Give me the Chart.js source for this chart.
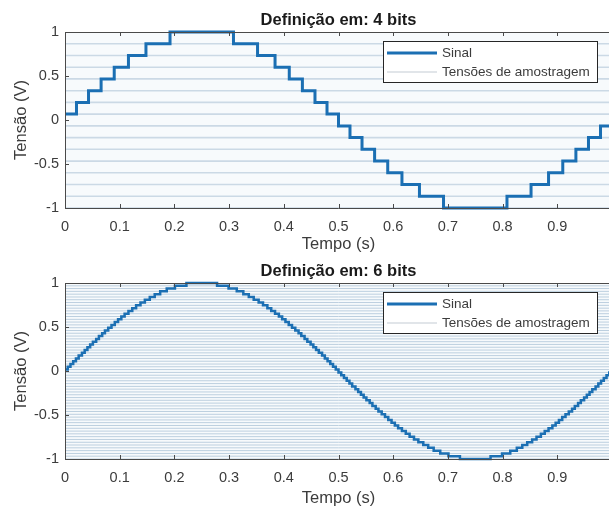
<!DOCTYPE html>
<html>
<head>
<meta charset="utf-8">
<script src="https://cdn.jsdelivr.net/npm/chart.js@4.4.1/dist/chart.umd.min.js"></script>
<style>
  html, body { margin: 0; padding: 0; background: #fff; }
  #wrap { width: 609px; height: 506px; overflow: hidden; position: relative; }
  .box { position: absolute; left: 0; width: 614px; height: 253px; }
</style>
</head>
<body>
<div id="wrap">
  <div class="box" style="top:0"><canvas id="c4" width="614" height="253"></canvas></div>
  <div class="box" style="top:253px"><canvas id="c6" width="614" height="253"></canvas></div>
</div>
<script>
// tick labels
const xTicks = [0, 0.1, 0.2, 0.3, 0.4, 0.5, 0.6, 0.7, 0.8, 0.9];
const xTickLabels = ['0', '0.1', '0.2', '0.3', '0.4', '0.5', '0.6', '0.7', '0.8', '0.9'];
const yTicks = [-1, -0.5, 0, 0.5, 1];
const yTickLabels = ['-1', '-0.5', '0', '0.5', '1'];

// 4 bits: sampling voltages and the quantized signal (step times + level index)
const levels4 = [-1, -0.867, -0.733, -0.6, -0.467, -0.333, -0.2, -0.067,
                 0.067, 0.2, 0.333, 0.467, 0.6, 0.733, 0.867, 1];
const t4 = [0, 0.021, 0.043, 0.066, 0.090, 0.116, 0.148, 0.192,
            0.308, 0.352, 0.384, 0.410, 0.434, 0.457, 0.479,
            0.500,
            0.521, 0.543, 0.566, 0.590, 0.616, 0.648, 0.692,
            0.808, 0.852, 0.884, 0.910, 0.934, 0.957, 0.979,
            1.000];
const c4 = [8, 9, 10, 11, 12, 13, 14, 15,
            14, 13, 12, 11, 10, 9, 8,
            7,
            6, 5, 4, 3, 2, 1, 0,
            1, 2, 3, 4, 5, 6, 7,
            7];

// 6 bits
const levels6 = [-1.000, -0.968, -0.937, -0.905, -0.873, -0.841, -0.810, -0.778,
                 -0.746, -0.714, -0.683, -0.651, -0.619, -0.587, -0.556, -0.524,
                 -0.492, -0.460, -0.429, -0.397, -0.365, -0.333, -0.302, -0.270,
                 -0.238, -0.206, -0.175, -0.143, -0.111, -0.079, -0.048, -0.016,
                 0.016, 0.048, 0.079, 0.111, 0.143, 0.175, 0.206, 0.238,
                 0.270, 0.302, 0.333, 0.365, 0.397, 0.429, 0.460, 0.492,
                 0.524, 0.556, 0.587, 0.619, 0.651, 0.683, 0.714, 0.746,
                 0.778, 0.810, 0.841, 0.873, 0.905, 0.937, 0.968, 1.000];
const t6 = [0, 0.005, 0.010, 0.015, 0.020, 0.025, 0.031, 0.036, 0.041, 0.046, 0.051,
            0.057, 0.062, 0.068, 0.073, 0.079, 0.085, 0.091, 0.097, 0.103, 0.109,
            0.116, 0.123, 0.130, 0.138, 0.146, 0.155, 0.164, 0.174, 0.186, 0.201, 0.222,
            0.278, 0.299, 0.314, 0.326, 0.336, 0.345, 0.354, 0.362, 0.370, 0.377,
            0.384, 0.391, 0.397, 0.403, 0.409, 0.415, 0.421, 0.427, 0.432, 0.438,
            0.443, 0.449, 0.454, 0.459, 0.464, 0.470, 0.475, 0.480, 0.485, 0.490, 0.495,
            0.500,
            0.505, 0.510, 0.515, 0.520, 0.525, 0.531, 0.536, 0.541, 0.546, 0.551,
            0.557, 0.562, 0.568, 0.573, 0.579, 0.585, 0.591, 0.597, 0.603, 0.609,
            0.616, 0.623, 0.630, 0.638, 0.646, 0.655, 0.664, 0.674, 0.686, 0.701, 0.722,
            0.778, 0.799, 0.814, 0.826, 0.836, 0.845, 0.854, 0.862, 0.870, 0.877,
            0.884, 0.891, 0.897, 0.903, 0.909, 0.915, 0.921, 0.927, 0.932, 0.938,
            0.943, 0.949, 0.954, 0.959, 0.964, 0.970, 0.975, 0.980, 0.985, 0.990, 0.995,
            1.000];
const c6 = [32, 33, 34, 35, 36, 37, 38, 39, 40, 41, 42, 43, 44, 45, 46, 47,
            48, 49, 50, 51, 52, 53, 54, 55, 56, 57, 58, 59, 60, 61, 62, 63,
            62, 61, 60, 59, 58, 57, 56, 55, 54, 53, 52, 51, 50, 49, 48, 47,
            46, 45, 44, 43, 42, 41, 40, 39, 38, 37, 36, 35, 34, 33, 32,
            31,
            30, 29, 28, 27, 26, 25, 24, 23, 22, 21, 20, 19, 18, 17, 16, 15,
            14, 13, 12, 11, 10, 9, 8, 7, 6, 5, 4, 3, 2, 1, 0,
            1, 2, 3, 4, 5, 6, 7, 8, 9, 10, 11, 12, 13, 14, 15, 16,
            17, 18, 19, 20, 21, 22, 23, 24, 25, 26, 27, 28, 29, 30, 31,
            31];

const BLUE = '#1b6fb3';
const AXIS = '#4a4a4a';
const TEXT = '#3c3c3c';
const FONT = '"Liberation Sans", Arial, sans-serif';

// titles, axis box, inward ticks and the legend
const decor = {
  id: 'decor',
  beforeDatasetsDraw(chart) {
    const { ctx, chartArea: a } = chart;
    ctx.save();
    ctx.fillStyle = '#f7fafc';
    ctx.fillRect(a.left, a.top, a.right - a.left, a.bottom - a.top);
    ctx.restore();
  },
  afterDatasetsDraw(chart, args, opts) {
    const { ctx, chartArea: a, scales } = chart;
    ctx.save();
    ctx.strokeStyle = AXIS;
    ctx.lineWidth = 1;
    ctx.beginPath();
    ctx.moveTo(a.left + 0.5, a.top + 0.5);
    ctx.lineTo(a.right, a.top + 0.5);
    ctx.moveTo(a.left + 0.5, a.top);
    ctx.lineTo(a.left + 0.5, a.bottom + 0.5);
    ctx.lineTo(a.right, a.bottom + 0.5);
    xTicks.forEach(v => {
      const x = Math.round(scales.x.getPixelForValue(v)) + 0.5;
      ctx.moveTo(x, a.bottom); ctx.lineTo(x, a.bottom - 4);
      ctx.moveTo(x, a.top); ctx.lineTo(x, a.top + 4);
    });
    yTicks.forEach(v => {
      const y = Math.round(scales.y.getPixelForValue(v)) + 0.5;
      ctx.moveTo(a.left, y); ctx.lineTo(a.left + 4, y);
    });
    ctx.stroke();

    // title
    ctx.fillStyle = '#1a1a1a';
    ctx.font = 'bold 16.5px ' + FONT;
    ctx.textAlign = 'center';
    ctx.textBaseline = 'alphabetic';
    ctx.fillText(opts.title, (a.left + a.right) / 2, a.top - 7);

    // axis titles
    ctx.fillStyle = TEXT;
    ctx.font = '16.5px ' + FONT;
    ctx.textBaseline = 'middle';
    ctx.fillText('Tempo (s)', (a.left + a.right) / 2, a.bottom + opts.xTitleGap);
    ctx.save();
    ctx.translate(21, (a.top + a.bottom) / 2);
    ctx.rotate(-Math.PI / 2);
    ctx.fillText('Tensão (V)', 0, 0);
    ctx.restore();

    // legend
    const lx = 383, ly = a.top + 9, lw = 214, lh = 41;
    ctx.fillStyle = '#ffffff';
    ctx.fillRect(lx, ly, lw, lh);
    ctx.strokeStyle = '#262626';
    ctx.strokeRect(lx + 0.5, ly + 0.5, lw, lh);
    ctx.lineWidth = 3;
    ctx.strokeStyle = BLUE;
    ctx.beginPath(); ctx.moveTo(387, ly + 12); ctx.lineTo(437, ly + 12); ctx.stroke();
    ctx.lineWidth = 1.2;
    ctx.strokeStyle = '#c4ccd4';
    ctx.beginPath(); ctx.moveTo(387, ly + 31); ctx.lineTo(437, ly + 31); ctx.stroke();
    ctx.fillStyle = TEXT;
    ctx.font = '13.5px ' + FONT;
    ctx.textAlign = 'left';
    ctx.fillText('Sinal', 442, ly + 12);
    ctx.fillText('Tensões de amostragem', 442, ly + 31);
    ctx.restore();
  }
};

function makeChart(id, title, levels, times, codes, topPad, xHeight, xTitleGap, sigWidth, levWidth, levColor) {
  const sig = times.map((t, i) => ({ x: t, y: levels[codes[i]] }));
  const lev = [];
  levels.forEach(L => {
    lev.push({ x: 0, y: L }, { x: 1, y: L }, { x: 0.5, y: null });
  });
  return new Chart(document.getElementById(id), {
    type: 'line',
    data: {
      datasets: [
        { label: 'Sinal', data: sig, stepped: 'before', borderColor: BLUE, borderWidth: sigWidth,
          pointRadius: 0, clip: 4, order: 0 },
        { label: 'Tensões de amostragem', data: lev, borderColor: levColor, borderWidth: levWidth,
          pointRadius: 0, spanGaps: false, order: 1 }
      ]
    },
    options: {
      responsive: false,
      animation: false,
      layout: { padding: { top: topPad, right: 2, left: 0, bottom: 0 } },
      plugins: {
        legend: { display: false },
        tooltip: { enabled: false },
        decor: { title: title, xTitleGap: xTitleGap }
      },
      scales: {
        x: {
          type: 'linear', min: 0, max: 1,
          afterFit: s => { s.height = xHeight; },
          afterBuildTicks: s => { s.ticks = xTicks.map(v => ({ value: v })); },
          ticks: { callback: (v, i) => xTickLabels[i], color: TEXT, font: { family: FONT, size: 14.5 },
                   padding: 10, maxRotation: 0, autoSkip: false },
          grid: { display: false, drawTicks: false },
          border: { display: false }
        },
        y: {
          min: -1, max: 1,
          afterFit: s => { s.width = 65; },
          afterBuildTicks: s => { s.ticks = yTicks.map(v => ({ value: v })); },
          ticks: { callback: (v, i) => yTickLabels[i], color: TEXT, font: { family: FONT, size: 14.5 },
                   padding: 6, autoSkip: false },
          grid: { display: false, drawTicks: false },
          border: { display: false }
        }
      }
    },
    plugins: [decor]
  });
}

makeChart('c4', 'Definição em: 4 bits', levels4, t4, c4, 32, 45, 36, 3, 1.6, '#cbd9e5');
makeChart('c6', 'Definição em: 6 bits', levels6, t6, c6, 30, 47, 39, 2.5, 1, '#bccfdf');
</script>
</body>
</html>
